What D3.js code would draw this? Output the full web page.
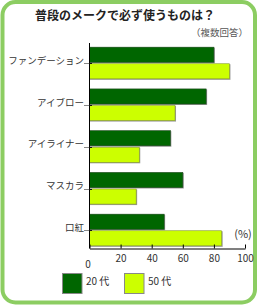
<!DOCTYPE html>
<html><head><meta charset="utf-8">
<script src="https://cdn.jsdelivr.net/npm/d3@7"></script>
<style>html,body{margin:0;padding:0;background:#fff;}svg{display:block;}</style>
</head><body>
<script>
const categories = ["ファンデーション","アイブロー","アイライナー","マスカラ","口紅"];
const seriesNames = ["20 代","50 代"];
const values20 = [80, 75, 52, 60, 48];
const values50 = [90, 55, 32, 30, 85];
const xTicks = [0, 20, 40, 60, 80, 100];
const colors = ["#006600", "#ccff00"];
const title = "普段のメークで必ず使うものは？";
const note = "（複数回答）";
const unit = "(%)";

const W = 259, H = 308;
const font = "'Noto Sans CJK JP', 'Noto Sans', sans-serif";
const svg = d3.select("body").append("svg").attr("width", W).attr("height", H);

svg.append("rect").attr("x", 2.5).attr("y", 2).attr("width", 252.5).attr("height", 300.5)
  .attr("rx", 13).attr("ry", 13).attr("fill", "#fff").attr("stroke", "#8ccd62").attr("stroke-width", 4);

svg.append("text").attr("x", 125).attr("y", 20).attr("text-anchor", "middle")
  .attr("font-family", font).attr("font-weight", "bold").attr("font-size", 12).attr("fill", "#222").text(title);
svg.append("text").attr("x", 248).attr("y", 36).attr("text-anchor", "end")
  .attr("font-family", font).attr("font-size", 9.5).attr("fill", "#555").text(note);

const x = d3.scaleLinear().domain([0, 100]).range([89.5, 245]);
const y = d3.scaleBand().domain(categories).range([43, 250.5]).paddingInner(0.23).paddingOuter(0.1);
const ys = d3.scaleBand().domain(seriesNames).range([0, y.bandwidth()]).paddingInner(0.06);

const data = categories.map((c, i) => ({cat: c, vals: [values20[i], values50[i]]}));
const g = svg.append("g");
data.forEach(d => {
  d.vals.forEach((v, j) => {
    const yy = y(d.cat) + ys(seriesNames[j]);
    g.append("rect").attr("x", x(0)).attr("y", yy + 0.5).attr("width", x(v) - x(0) + 1).attr("height", ys.bandwidth())
      .attr("fill", "#999");
    g.append("rect").attr("x", x(0)).attr("y", yy).attr("width", x(v) - x(0)).attr("height", ys.bandwidth() - 0.5)
      .attr("fill", colors[j]).attr("stroke", j === 0 ? "#1d4a1d" : "#889a33").attr("stroke-width", 0.6);
  });
});

// y axis
const yAxis = svg.append("g");
yAxis.append("line").attr("x1", 89.5).attr("x2", 89.5).attr("y1", 43).attr("y2", 248.5).attr("stroke", "#000").attr("stroke-width", 1);
categories.forEach(c => {
  const cy = y(c) + y.bandwidth() / 2;
  yAxis.append("line").attr("x1", 84).attr("x2", 89).attr("y1", Math.round(cy) + 0.5).attr("y2", Math.round(cy) + 0.5).attr("stroke", "#888");
  yAxis.append("line").attr("x1", 89).attr("x2", 92).attr("y1", Math.round(cy) + 0.5).attr("y2", Math.round(cy) + 0.5).attr("stroke", "#111");
  yAxis.append("text").attr("x", 84).attr("y", cy - 2).attr("text-anchor", "end").attr("dominant-baseline", "middle")
    .attr("font-family", font).attr("font-size", 9.5).attr("fill", "#333").text(c);
});

// x axis
const xa = svg.append("g").attr("transform", "translate(0,248.5)")
  .call(d3.axisBottom(x).tickValues(xTicks).tickSize(-4).tickSizeOuter(0).tickPadding(6));
xa.select(".domain").attr("stroke", "#000");
xa.selectAll(".tick line").attr("stroke", "#000");
xa.selectAll(".tick text").attr("font-family", font).attr("font-size", 10).attr("fill", "#333")
  .attr("y", d => d === 0 ? 12 : 6).attr("dx", d => d === 0 ? -2 : 0);

svg.append("text").attr("x", 243).attr("y", 237.5).attr("text-anchor", "middle")
  .attr("font-family", font).attr("font-size", 11).attr("fill", "#333").text(unit);

// legend
const legX = [62, 124];
seriesNames.forEach((s, j) => {
  svg.append("rect").attr("x", legX[j] + 0.5).attr("y", 273.5).attr("width", 19.5).attr("height", 20)
    .attr("fill", colors[j]).attr("stroke", "#888").attr("stroke-width", 1);
  svg.append("text").attr("x", legX[j] + 24).attr("y", 285).attr("font-family", font).attr("font-size", 10)
    .attr("fill", "#333").text(s);
});
</script>
</body></html>
